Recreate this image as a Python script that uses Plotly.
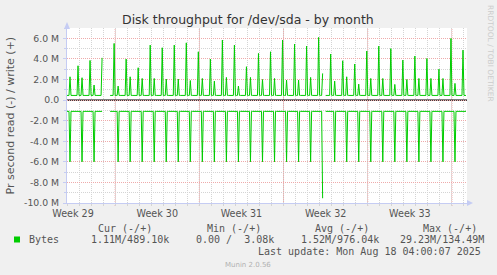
import plotly.graph_objects as go
import pandas as pd

# ---------------- data ----------------
start_time = "2025-07-16 00:00"
n_points = 399                      # 2-hour samples up to Aug 18 04:00
write_base_M = 0.45                 # write baseline (MB/s)
read_base_M = -1.10                 # read baseline (MB/s, shown negative)

# daily write spike at 22:00 (MB/s), days Jul 16 .. Aug 17
write_peak_22h = [3.33, 3.85, 4.10, 5.50, 3.98, 3.14, 5.34, 5.08, 5.34, 5.56,
                  4.69, 3.98, 5.83, 5.34, 3.24, 4.53, 4.69, 5.83, 5.44, 5.24,
                  6.09, 4.47, 3.82, 3.50, 4.76, 5.24, 5.00, 3.88, 4.27, 4.04,
                  3.00, 5.99, 4.85]
# daily write spike at 06:00 (MB/s)
write_peak_06h = [2.26, 2.17, 1.46, None, 1.36, 2.26, 2.10, 2.10, 2.04, 2.04,
                  1.90, 2.10, 1.84, 2.20, 1.36, 2.20, 2.00, 2.10, 1.94, 1.94,
                  2.20, 2.59, 1.84, 2.26, 1.55, 2.10, 2.10, 1.52, 2.00, 2.10,
                  2.10, 2.10, 1.62]
# daily read spike at 06:00 (MB/s, negative)
read_peak_06h = [-6.0, -6.0, -6.0, None, -6.0, -6.0, -6.0, -6.0, -6.0, -6.0,
                 -6.0, -6.0, -6.0, -6.0, -6.0, -6.0, -6.0, -6.0, -6.0, -6.0,
                 -6.0, -9.54, -6.0, -6.0, -6.0, -6.0, -6.0, -6.0, -6.0, -6.0,
                 -6.0, -6.0, -6.0]
# periods with no data
gaps = [("2025-07-19 00:00", "2025-07-19 12:00"),
        ("2025-08-06 08:00", "2025-08-06 10:00")]

week_label_times = ["2025-07-16 12:00", "2025-07-23 12:00", "2025-07-30 12:00",
                    "2025-08-06 12:00", "2025-08-13 12:00"]
week_labels = ["Week 29", "Week 30", "Week 31", "Week 32", "Week 33"]
week_start_times = ["2025-07-20", "2025-07-27", "2025-08-03", "2025-08-10", "2025-08-17"]

y_tick_vals_M = [-10, -8, -6, -4, -2, 0, 2, 4, 6]
y_tick_text = ["-10.0 M", "-8.0 M", "-6.0 M", "-4.0 M", "-2.0 M", "0.0",
               "2.0 M", "4.0 M", "6.0 M"]

legend_headers = ["Cur (-/+)", "Min (-/+)", "Avg (-/+)", "Max (-/+)"]
legend_values = ["1.11M/489.10k", "0.00 /  3.08k", "1.52M/976.04k", "29.23M/134.49M"]
series_name = "Bytes"
last_update = "Last update: Mon Aug 18 04:00:07 2025"
title_text = "Disk throughput for /dev/sda - by month"
y_title = "Pr second read (-) / write (+)"

# ---------------- build series ----------------
t = pd.date_range(start_time, periods=n_points, freq="2h")
s_write = pd.Series(write_base_M * 1e6, index=t, dtype="float")
s_read = pd.Series(read_base_M * 1e6, index=t, dtype="float")
day0 = pd.Timestamp(start_time)
for k, v in enumerate(write_peak_22h):
    ts = day0 + pd.Timedelta(days=k, hours=22)
    if v is not None and ts in s_write.index:
        s_write[ts] = v * 1e6
for k, v in enumerate(write_peak_06h):
    ts = day0 + pd.Timedelta(days=k, hours=6)
    if v is not None and ts in s_write.index:
        s_write[ts] = v * 1e6
for k, v in enumerate(read_peak_06h):
    ts = day0 + pd.Timedelta(days=k, hours=6)
    if v is not None and ts in s_read.index:
        s_read[ts] = v * 1e6
for g0, g1 in gaps:
    s_write[g0:g1] = None
    s_read[g0:g1] = None

GREEN = "#00cc00"
AXIS = "#c5ccf3"
MINOR = "#d4d4d4"
MAJOR = "#eeaaaa"
DOT = "1px,1px"
FONT = "DejaVu Sans, Liberation Sans, sans-serif"
MONO = "DejaVu Sans Mono, Liberation Mono, monospace"

W, H = 497, 275
L, R, T, B = 67, 30, 28, 72
PW, PH = W - L - R, H - T - B


def px(xp):
    return (xp - L) / PW


def py(yp):
    return (H - B - yp) / PH


fig = go.Figure()
fig.add_trace(go.Scatter(x=t, y=s_write.values, mode="lines",
                         line=dict(color=GREEN, width=1), connectgaps=False,
                         hoverinfo="skip", showlegend=False))
fig.add_trace(go.Scatter(x=t, y=s_read.values, mode="lines",
                         line=dict(color=GREEN, width=1), connectgaps=False,
                         hoverinfo="skip", showlegend=False))

shapes = []
for ws in week_start_times:
    shapes.append(dict(type="line", xref="x", yref="paper", x0=ws, x1=ws,
                       y0=-3 / PH, y1=1, layer="between",
                       line=dict(color=MAJOR, width=1, dash=DOT)))
# zero line
shapes.append(dict(type="line", xref="paper", yref="y", x0=0, x1=1, y0=0, y1=0,
                   layer="between", line=dict(color="#000000", width=1.3)))
# axis arrows
shapes.append(dict(type="path", xref="paper", yref="paper",
                   path=f"M {px(64)} {py(29)} L {px(70)} {py(29)} L {px(67)} {py(22)} Z",
                   fillcolor=AXIS, line=dict(width=0)))
shapes.append(dict(type="line", xref="paper", yref="paper", x0=0, x1=0,
                   y0=1, y1=py(24), line=dict(color=AXIS, width=1)))
shapes.append(dict(type="path", xref="paper", yref="paper",
                   path=f"M {px(467)} {py(200)} L {px(467)} {py(206)} L {px(473)} {py(203)} Z",
                   fillcolor=AXIS, line=dict(width=0)))
# legend swatch
shapes.append(dict(type="rect", xref="paper", yref="paper",
                   x0=px(14), x1=px(20), y0=py(242.5), y1=py(236.5),
                   fillcolor=GREEN, line=dict(width=0)))

ann = []
ann.append(dict(text=title_text, x=px(248), y=py(19), xref="paper", yref="paper",
                showarrow=False, xanchor="center", yanchor="middle",
                font=dict(family=FONT, size=12.5, color="#333333")))
ann.append(dict(text=y_title, x=px(10), y=py(115.5), xref="paper", yref="paper",
                showarrow=False, textangle=-90, xanchor="center", yanchor="middle",
                font=dict(family=FONT, size=11, color="#555555")))
ann.append(dict(text="RRDTOOL / TOBI OETIKER", x=px(491), y=py(53), xref="paper",
                yref="paper", showarrow=False, textangle=90, xanchor="center",
                yanchor="middle", font=dict(family=FONT, size=7.5, color="#cccccc")))
header_centers = [125, 234, 342, 450]
for h, cx in zip(legend_headers, header_centers):
    ann.append(dict(text=h.replace(" ", "&nbsp;"), x=px(cx), y=py(228), xref="paper",
                    yref="paper", showarrow=False, xanchor="center", yanchor="middle",
                    font=dict(family=MONO, size=10, color="#555555")))
ann.append(dict(text=series_name, x=px(26.5), y=py(239.5), xref="paper", yref="paper",
                showarrow=False, xanchor="left", yanchor="middle",
                font=dict(family=MONO, size=10, color="#555555")))
value_lefts = [89.3, 194.3, 299.3, 398.3]
for v, lx in zip(legend_values, value_lefts):
    ann.append(dict(text=v.replace(" ", "&nbsp;"), x=px(lx), y=py(239.5), xref="paper",
                    yref="paper", showarrow=False, xanchor="left", yanchor="middle",
                    font=dict(family=MONO, size=10, color="#555555")))
ann.append(dict(text=last_update.replace(" ", "&nbsp;"), x=px(482.5), y=py(251.5),
                xref="paper", yref="paper", showarrow=False, xanchor="right",
                yanchor="middle", font=dict(family=MONO, size=10, color="#555555")))
ann.append(dict(text="Munin 2.0.56", x=px(247.5), y=py(264.5), xref="paper",
                yref="paper", showarrow=False, xanchor="center", yanchor="middle",
                font=dict(family=FONT, size=7, color="#b0b0b0")))

fig.update_layout(
    width=W, height=H,
    margin=dict(l=L, r=R, t=T, b=B, pad=0),
    paper_bgcolor="#f0f0f0", plot_bgcolor="#ffffff",
    showlegend=False,
    shapes=shapes, annotations=ann,
    xaxis=dict(
        type="date",
        range=["2025-07-16 00:00", "2025-08-18 06:00"],
        tickmode="array", tickvals=week_label_times, ticktext=week_labels,
        showgrid=False, ticks="", zeroline=False,
        showline=True, linecolor=AXIS, linewidth=1,
        tickfont=dict(family=FONT, size=9.6, color="#555555"),
        ticklabelstandoff=1,
        minor=dict(dtick=86400000, tick0="2025-07-16", showgrid=True,
                   gridcolor=MINOR, griddash=DOT, gridwidth=1,
                   ticks="outside", ticklen=2, tickcolor=MINOR),
    ),
    yaxis=dict(
        range=[-10e6, 7e6],
        tickmode="array", tickvals=[v * 1e6 for v in y_tick_vals_M], ticktext=y_tick_text,
        showgrid=True, gridcolor=MAJOR, griddash=DOT, gridwidth=1,
        zeroline=False,
        showline=True, linecolor=AXIS, linewidth=1,
        ticks="outside", ticklen=3, tickcolor=AXIS,
        tickfont=dict(family=FONT, size=9.3, color="#555555"),
        ticklabelstandoff=2,
        minor=dict(dtick=1e6, tick0=0, showgrid=True, gridcolor=MINOR,
                   griddash=DOT, gridwidth=1, ticks="outside", ticklen=2,
                   tickcolor=AXIS),
    ),
)

fig.write_html("out.html")
